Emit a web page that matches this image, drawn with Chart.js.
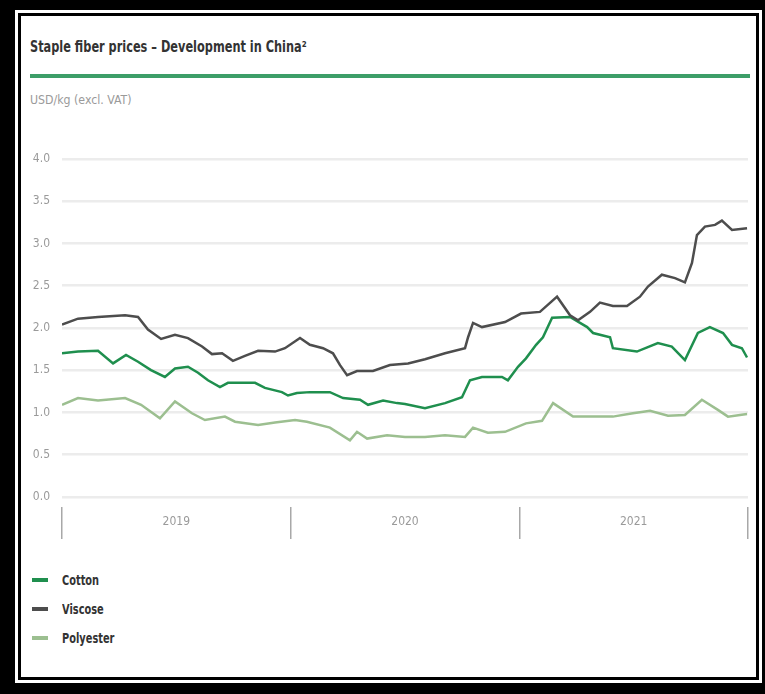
<!DOCTYPE html>
<html>
<head>
<meta charset="utf-8">
<script src="https://cdn.jsdelivr.net/npm/chart.js@4.4.1/dist/chart.umd.min.js"></script>
<style>
  html, body { margin: 0; padding: 0; background: #000; }
  body { width: 765px; height: 694px; position: relative; overflow: hidden;
         font-family: "DejaVu Sans Condensed", "Liberation Sans Narrow", Roboto, sans-serif; }
  .frame-outer { position: absolute; left: 15px; top: 10px; width: 747px; height: 673px; background: #fff; }
  .frame-inner { position: absolute; left: 18px; top: 13px; width: 735px; height: 661px; border: 3px solid #000; background: #fff; }
  .title { position: absolute; left: 30px; top: 38px; font-size: 15px; font-weight: bold; color: #333;
           transform: scaleX(0.84); transform-origin: left center; white-space: nowrap; }
  .rule { position: absolute; left: 30px; top: 74px; width: 720px; height: 4px; background: #3d9e68; }
  .unit { position: absolute; left: 30px; top: 92px; font-size: 13px; color: #9a9a9a;
          transform: scaleX(0.94); transform-origin: left center; white-space: nowrap; }
  #chartBox { position: absolute; left: 0; top: 0; width: 765px; height: 560px; }
  .legend { position: absolute; left: 32px; top: 565px; }
  .legend-item { height: 29px; display: flex; align-items: center; }
  .legend-item span.swatch { display: inline-block; width: 16px; height: 4px; margin-right: 14px; }
  .legend-item span.name { display: inline-block; font-size: 14px; color: #333; font-weight: bold;
                           transform: scaleX(0.78); transform-origin: left center; white-space: nowrap; }
</style>
</head>
<body>
<div class="frame-outer"></div>
<div class="frame-inner"></div>
<div class="title">Staple fiber prices – Development in China²</div>
<div class="rule"></div>
<div class="unit">USD/kg (excl. VAT)</div>
<div id="chartBox"><canvas id="chart"></canvas></div>
<div class="legend" id="legend"></div>

<script>
// months since Jan 2019 and prices (USD/kg)
const viscoseMonths = [0, 0.84, 1.89, 3.31, 3.99, 4.51, 5.2, 5.93, 6.61, 7.35, 7.87, 8.4, 8.97, 9.6, 10.29, 11.18, 11.7, 12.49, 13.01, 13.7, 14.22, 14.59, 14.96, 15.48, 16.32, 17.21, 18.16, 19.05, 20.1, 21.15, 21.31, 21.57, 22.04, 23.25, 24.09, 25.08, 25.98, 26.66, 27.08, 27.71, 28.23, 28.91, 29.65, 30.33, 30.75, 31.48, 32.17, 32.69, 33.06, 33.32, 33.74, 34.27, 34.63, 35.16, 35.95];
const viscosePrices = [2.04, 2.11, 2.13, 2.15, 2.13, 1.98, 1.87, 1.92, 1.88, 1.78, 1.69, 1.70, 1.61, 1.67, 1.73, 1.72, 1.76, 1.88, 1.80, 1.76, 1.70, 1.56, 1.44, 1.49, 1.49, 1.56, 1.58, 1.63, 1.70, 1.76, 1.89, 2.06, 2.01, 2.07, 2.17, 2.19, 2.37, 2.15, 2.09, 2.19, 2.30, 2.26, 2.26, 2.37, 2.49, 2.63, 2.59, 2.54, 2.77, 3.10, 3.20, 3.22, 3.27, 3.16, 3.18];

const cottonMonths = [0, 0.84, 1.89, 2.68, 3.36, 3.99, 4.67, 5.4, 5.93, 6.61, 7.14, 7.66, 8.29, 8.71, 10.13, 10.65, 11.54, 11.86, 12.33, 13.01, 14.06, 14.75, 15.64, 16.06, 16.85, 17.58, 18.0, 19.05, 20.1, 20.99, 21.41, 22.04, 23.09, 23.4, 23.93, 24.35, 24.88, 25.24, 25.72, 26.66, 27.56, 27.87, 28.76, 28.91, 30.17, 31.27, 32.0, 32.69, 33.37, 34.0, 34.69, 35.16, 35.68, 35.95];
const cottonPrices = [1.70, 1.72, 1.73, 1.58, 1.68, 1.60, 1.50, 1.42, 1.52, 1.54, 1.47, 1.38, 1.30, 1.35, 1.35, 1.29, 1.24, 1.20, 1.23, 1.24, 1.24, 1.17, 1.15, 1.09, 1.14, 1.11, 1.10, 1.05, 1.11, 1.18, 1.38, 1.42, 1.42, 1.38, 1.54, 1.64, 1.80, 1.89, 2.12, 2.13, 2.01, 1.94, 1.89, 1.76, 1.72, 1.82, 1.78, 1.62, 1.94, 2.01, 1.94, 1.80, 1.76, 1.65];

const polyesterMonths = [0, 0.84, 1.89, 3.31, 4.15, 5.14, 5.93, 6.82, 7.5, 8.55, 9.08, 10.29, 11.18, 12.23, 12.85, 14.06, 15.11, 15.48, 16.01, 17.06, 18.0, 19.05, 20.1, 21.15, 21.57, 22.35, 23.25, 24.35, 25.19, 25.77, 26.82, 27.87, 28.91, 29.96, 30.86, 31.8, 32.69, 33.58, 34.42, 34.95, 35.95];
const polyesterPrices = [1.09, 1.17, 1.14, 1.17, 1.09, 0.93, 1.13, 0.99, 0.91, 0.95, 0.89, 0.85, 0.88, 0.91, 0.89, 0.82, 0.67, 0.77, 0.69, 0.73, 0.71, 0.71, 0.73, 0.71, 0.82, 0.76, 0.77, 0.87, 0.90, 1.11, 0.95, 0.95, 0.95, 0.99, 1.02, 0.96, 0.97, 1.15, 1.03, 0.95, 0.98];

const yTicks = [0, 0.5, 1.0, 1.5, 2.0, 2.5, 3.0, 3.5, 4.0];
const xTicks = [0, 6, 12, 18, 24, 30, 36];
const yearLabels = { 6: "2019", 18: "2020", 30: "2021" };

const seriesNames = ["Cotton", "Viscose", "Polyester"];
const seriesColors = ["#1f8f4e", "#4d4d4d", "#9cbf90"];

const toPoints = (xs, ys) => xs.map((x, i) => ({ x: x, y: ys[i] }));

Chart.defaults.font.family = "'DejaVu Sans Condensed', 'Liberation Sans Narrow', sans-serif";

const lineStyle = { borderWidth: 2.5, pointRadius: 0, tension: 0, fill: false };

new Chart(document.getElementById("chart"), {
  type: "line",
  data: {
    datasets: [
      { label: seriesNames[1], data: toPoints(viscoseMonths, viscosePrices), borderColor: seriesColors[1], ...lineStyle },
      { label: seriesNames[2], data: toPoints(polyesterMonths, polyesterPrices), borderColor: seriesColors[2], ...lineStyle },
      { label: seriesNames[0], data: toPoints(cottonMonths, cottonPrices), borderColor: seriesColors[0], ...lineStyle }
    ]
  },
  options: {
    responsive: true,
    maintainAspectRatio: false,
    animation: false,
    layout: { padding: { left: 0, right: 17, top: 159, bottom: 13 } },
    plugins: { legend: { display: false }, tooltip: { enabled: false } },
    scales: {
      x: {
        type: "linear",
        min: 0,
        max: 36,
        afterBuildTicks: (axis) => { axis.ticks = xTicks.map(v => ({ value: v })); },
        afterFit: (axis) => { axis.height = 40; },
        border: { display: false },
        grid: {
          drawOnChartArea: false,
          drawTicks: true,
          tickLength: 32,
          lineWidth: 1.5,
          color: (ctx) => (ctx.tick && ctx.tick.value % 12 === 0) ? "#a8a8a8" : "rgba(0,0,0,0)"
        },
        ticks: {
          autoSkip: false,
          maxRotation: 0,
          padding: -24,
          color: "#9a9a9a",
          font: { size: 12 },
          callback: (v) => yearLabels[v] || ""
        }
      },
      y: {
        min: -0.12,
        max: 4.0,
        afterBuildTicks: (axis) => { axis.ticks = yTicks.map(v => ({ value: v })); },
        afterFit: (axis) => { axis.width = 62; },
        border: { display: false },
        grid: { drawTicks: false, color: "#ececec", lineWidth: 2.5 },
        ticks: {
          padding: 12,
          color: "#9a9a9a",
          font: { size: 12 },
          callback: (v) => Number(v).toFixed(1)
        }
      }
    }
  }
});

// legend
const legendEl = document.getElementById("legend");
seriesNames.forEach((name, i) => {
  const item = document.createElement("div");
  item.className = "legend-item";
  item.innerHTML = '<span class="swatch" style="background:' + seriesColors[i] + '"></span><span class="name">' + name + '</span>';
  legendEl.appendChild(item);
});
</script>
</body>
</html>
